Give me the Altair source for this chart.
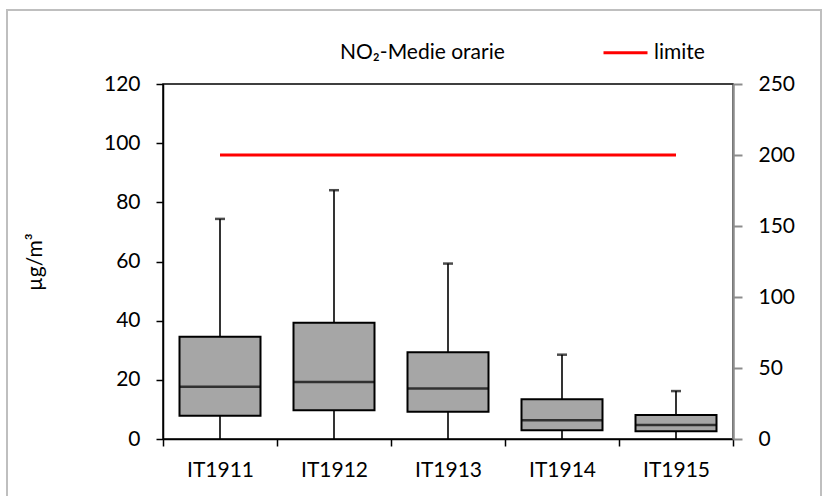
import altair as alt
import pandas as pd

stations = ["IT1911", "IT1912", "IT1913", "IT1914", "IT1915"]
whisker_low = [0, 0, 0, 0, 0]
q1 = [7.9, 9.7, 9.2, 3.0, 2.6]
median = [17.7, 19.3, 17.1, 6.3, 4.7]
q3 = [34.6, 39.3, 29.3, 13.4, 8.1]
whisker_high = [74.4, 84.1, 59.3, 28.5, 16.2]
limit = [200, 200, 200, 200, 200]

series_names = ["NO\u2082-Medie orarie", "limite"]
series_colors = ["transparent", "#ff0000"]

df = pd.DataFrame({
    "station": stations,
    "low": whisker_low,
    "q1": q1,
    "median": median,
    "q3": q3,
    "high": whisker_high,
    "limit": limit,
    "serie": ["limite"] * len(stations),
})

FONT = "Lato"
FS = 21
W, H = 570, 355
LEFT, TOP = 163, 84

xenc = alt.X(
    "station:N",
    sort=stations,
    scale=alt.Scale(type="band", paddingInner=0, paddingOuter=0),
    axis=alt.Axis(
        title=None, tickBand="extent", labelAngle=0, tickSize=7,
        tickColor="black", domainColor="black", domainWidth=1.5, tickWidth=1.5,
        labelPadding=13, labelFontSize=FS, labelFont=FONT, labelColor="black",
    ),
)

yscale = alt.Scale(domain=[0, 120], nice=False, zero=True)
left_axis = alt.Axis(
    orient="left", values=[0, 20, 40, 60, 80, 100, 120], tickSize=7,
    tickColor="black", domainColor="black", domainWidth=1.5, tickWidth=1.5,
    labelPadding=16, labelFontSize=FS, labelFont=FONT, labelColor="black",
    grid=False, title="\u00b5g/m\u00b3", titleFont=FONT, titleFontSize=FS,
    titleFontWeight="normal", titleColor="black", titleX=-128, titleY=H / 2,
    titleBaseline="middle", titleAngle=270,
)

base = alt.Chart(df)

whisker = base.mark_rule(color="black", strokeWidth=1.6).encode(
    x=xenc,
    y=alt.Y("low:Q", scale=yscale, axis=left_axis),
    y2="high:Q",
)
box = base.mark_bar(size=81, fill="#a6a6a6", stroke="black", strokeWidth=2).encode(
    x=xenc, y=alt.Y("q1:Q", scale=yscale), y2="q3:Q"
)
med = base.mark_tick(size=81, thickness=2.5, color="black").encode(
    x=xenc, y=alt.Y("median:Q", scale=yscale)
)
cap = base.mark_tick(size=10, thickness=2.5, color="black").encode(
    x=xenc, y=alt.Y("high:Q", scale=yscale)
)
boxes = alt.layer(whisker, box, med, cap)

limit_line = base.mark_line(strokeWidth=3).encode(
    x=xenc,
    y=alt.Y(
        "limit:Q",
        scale=alt.Scale(domain=[0, 250], nice=False, zero=True),
        axis=alt.Axis(
            orient="right", values=[0, 50, 100, 150, 200, 250], tickSize=9,
            tickColor="#8c8c8c", domainColor="#8c8c8c", domainWidth=2.5,
            tickWidth=2, labelPadding=16, labelFontSize=FS, labelFont=FONT,
            labelColor="black", grid=False, title=None,
        ),
    ),
    color=alt.Color(
        "serie:N",
        scale=alt.Scale(domain=series_names, range=series_colors),
        legend=alt.Legend(
            title=None, orient="none", direction="horizontal",
            legendX=125, legendY=-55, symbolType="stroke",
            symbolSize=1936, symbolStrokeWidth=3, labelOffset=5,
            columnPadding=92, labelFontSize=FS, labelFont=FONT,
            labelColor="black", labelLimit=400,
        ),
    ),
)

frame = alt.Chart(pd.DataFrame({"f": [0]})).mark_rect(
    fill="transparent", stroke="#bfbfbf", strokeWidth=2
).encode(
    x=alt.value(7 - LEFT), x2=alt.value(821 - LEFT),
    y=alt.value(10 - TOP), y2=alt.value(510 - TOP),
)

chart = alt.layer(frame, boxes, limit_line).resolve_scale(
    y="independent"
).properties(
    width=W, height=H,
    autosize=alt.AutoSizeParams(type="none"),
    padding={"left": LEFT, "top": TOP, "right": 827 - LEFT - W, "bottom": 496 - TOP - H},
    background="white",
).configure_view(stroke="black", strokeWidth=1.5)

chart.save("out.html", embed_options={"renderer": "svg", "actions": False})
